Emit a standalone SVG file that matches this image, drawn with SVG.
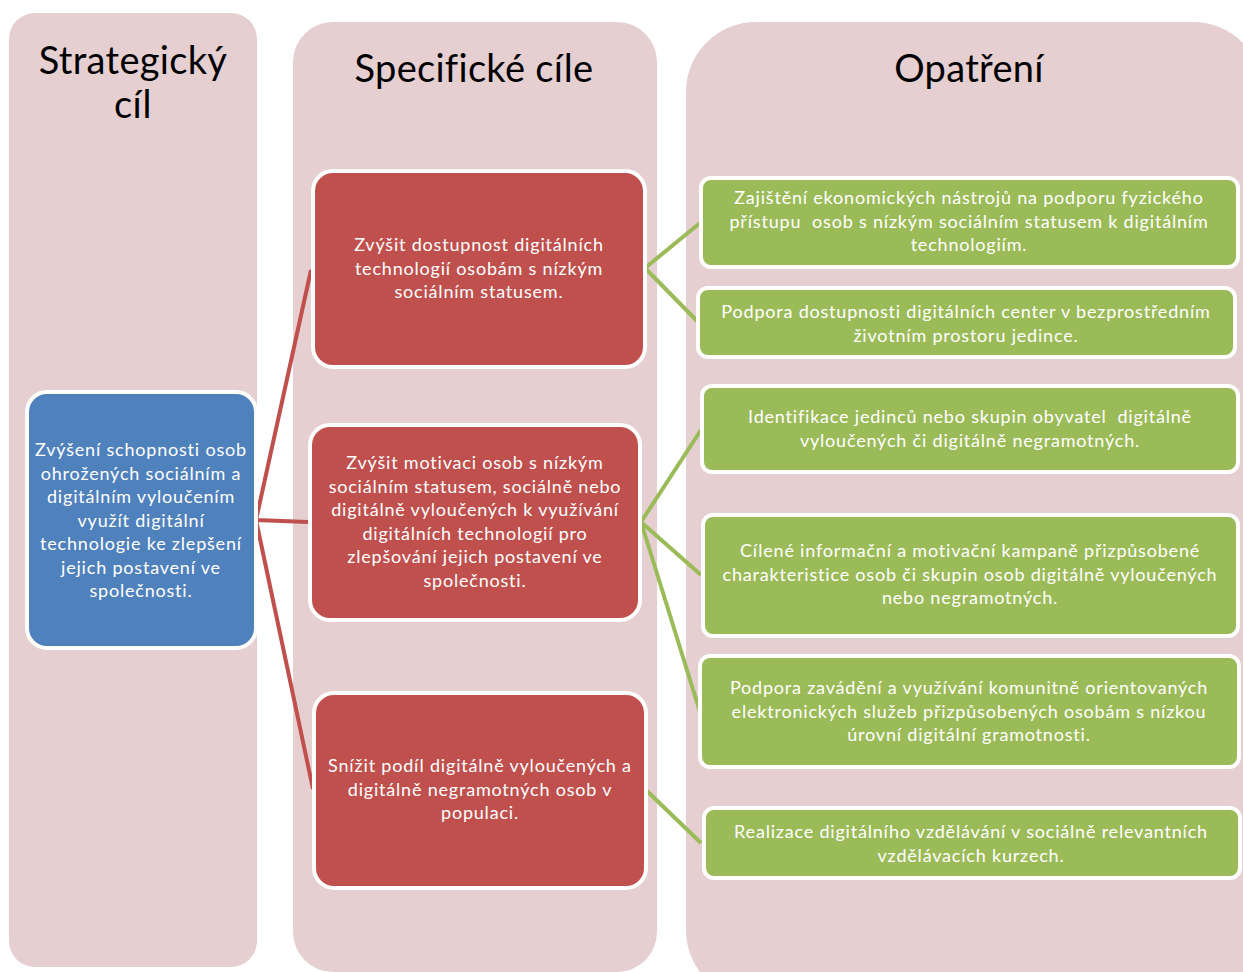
<svg xmlns="http://www.w3.org/2000/svg" width="1243" height="972" viewBox="0 0 1243 972">
<style>
.col{fill:#E6CFD0;}
.title{font-family:Lato,"Open Sans","Liberation Sans",sans-serif;font-size:38px;fill:#000;text-anchor:middle;letter-spacing:0.3px;}
.t{font-family:Lato,"Open Sans","Liberation Sans",sans-serif;font-size:18px;fill:#fff;text-anchor:middle;letter-spacing:0.8px;}
.pre{white-space:pre;}
.blue{fill:#4F81BD;stroke:#fff;stroke-width:4;}
.red{fill:#C0504D;stroke:#fff;stroke-width:4;}
.green{fill:#9BBB59;stroke:#fff;stroke-width:4;}
.lr{stroke:#C0504D;stroke-width:4;fill:none;}
.lg{stroke:#9BBB59;stroke-width:4;fill:none;}
</style>
<rect width="1243" height="972" fill="#fff"/>
<g id="columns">
<rect class="col" x="9" y="13" width="248" height="954" rx="26"/>
<path class="col" d="M293 62 A40 40 0 0 1 333 22 L617 22 A40 40 0 0 1 657 62 L657 932 A40 40 0 0 1 617 972 L333 972 A40 40 0 0 1 293 932 Z"/>
<path class="col" d="M686 92 A70 70 0 0 1 756 22 L1193 22 A70 70 0 0 1 1263 92 L1263 1000 L756 1000 A70 70 0 0 1 686 930 Z"/>
<text class="title" x="133" y="74">Strategický</text>
<text class="title" x="133" y="118">cíl</text>
<text class="title" x="474" y="82">Specifické cíle</text>
<text class="title" x="969" y="82">Opatření</text>
</g>
<g id="connectors">
<path class="lr" d="M256 520 L311 270 M256 520 L308 522 M256 520 L313 789"/>
<path class="lg" d="M645 268 L700 223 M645 268 L699 323"/>
<path class="lg" d="M641 522 L701 430 M641 522 L701 575 M641 522 L700 712"/>
<path class="lg" d="M647 791 L701 843"/>
</g>
<g id="n-strategic">
<rect class="blue" x="27" y="392" width="229" height="256" rx="20"/>
<text class="t" x="141" y="456">Zvýšení schopnosti osob</text>
<text class="t" x="141" y="479.5">ohrožených sociálním a</text>
<text class="t" x="141" y="503">digitálním vyloučením</text>
<text class="t" x="141" y="526.5">využít digitální</text>
<text class="t" x="141" y="550">technologie ke zlepšení</text>
<text class="t" x="141" y="573.5">jejich postavení ve</text>
<text class="t" x="141" y="597">společnosti.</text>
</g>
<g id="n-s1">
<rect class="red" x="313" y="171" width="332" height="196" rx="20"/>
<text class="t" x="479" y="251">Zvýšit dostupnost digitálních</text>
<text class="t" x="479" y="274.5">technologií osobám s nízkým</text>
<text class="t" x="479" y="298">sociálním statusem.</text>
</g>
<g id="n-s2">
<rect class="red" x="310" y="425" width="330" height="195" rx="20"/>
<text class="t" x="475" y="469">Zvýšit motivaci osob s nízkým</text>
<text class="t" x="475" y="492.5">sociálním statusem, sociálně nebo</text>
<text class="t" x="475" y="516">digitálně vyloučených k využívání</text>
<text class="t" x="475" y="539.5">digitálních technologií pro</text>
<text class="t" x="475" y="563">zlepšování jejich postavení ve</text>
<text class="t" x="475" y="586.5">společnosti.</text>
</g>
<g id="n-s3">
<rect class="red" x="314" y="693" width="332" height="195" rx="20"/>
<text class="t" x="480" y="772">Snížit podíl digitálně vyloučených a</text>
<text class="t" x="480" y="795.5">digitálně negramotných osob v</text>
<text class="t" x="480" y="819">populaci.</text>
</g>
<g id="n-o1">
<rect class="green" x="701" y="178" width="537" height="89" rx="10"/>
<text class="t" x="969" y="204">Zajištění ekonomických nástrojů na podporu fyzického</text>
<text class="t pre" x="969" y="227.5">přístupu  osob s nízkým sociálním statusem k digitálním</text>
<text class="t" x="969" y="251">technologiím.</text>
</g>
<g id="n-o2">
<rect class="green" x="698" y="288" width="537" height="69" rx="10"/>
<text class="t" x="966" y="318">Podpora dostupnosti digitálních center v bezprostředním</text>
<text class="t" x="966" y="341.5">životním prostoru jedince.</text>
</g>
<g id="n-o3">
<rect class="green" x="702" y="386" width="536" height="86" rx="10"/>
<text class="t pre" x="970" y="423">Identifikace jedinců nebo skupin obyvatel  digitálně</text>
<text class="t" x="970" y="446.5">vyloučených či digitálně negramotných.</text>
</g>
<g id="n-o4">
<rect class="green" x="703" y="515" width="535" height="121" rx="10"/>
<text class="t" x="970" y="557">Cílené informační a motivační kampaně přizpůsobené</text>
<text class="t" x="970" y="580.5">charakteristice osob či skupin osob digitálně vyloučených</text>
<text class="t" x="970" y="604">nebo negramotných.</text>
</g>
<g id="n-o5">
<rect class="green" x="700" y="656" width="539" height="111" rx="10"/>
<text class="t" x="969" y="694">Podpora zavádění a využívání komunitně orientovaných</text>
<text class="t" x="969" y="717.5">elektronických služeb přizpůsobených osobám s nízkou</text>
<text class="t" x="969" y="741">úrovní digitální gramotnosti.</text>
</g>
<g id="n-o6">
<rect class="green" x="704" y="808" width="536" height="70" rx="10"/>
<text class="t" x="971" y="838">Realizace digitálního vzdělávání v sociálně relevantních</text>
<text class="t" x="971" y="861.5">vzdělávacích kurzech.</text>
</g>
</svg>
